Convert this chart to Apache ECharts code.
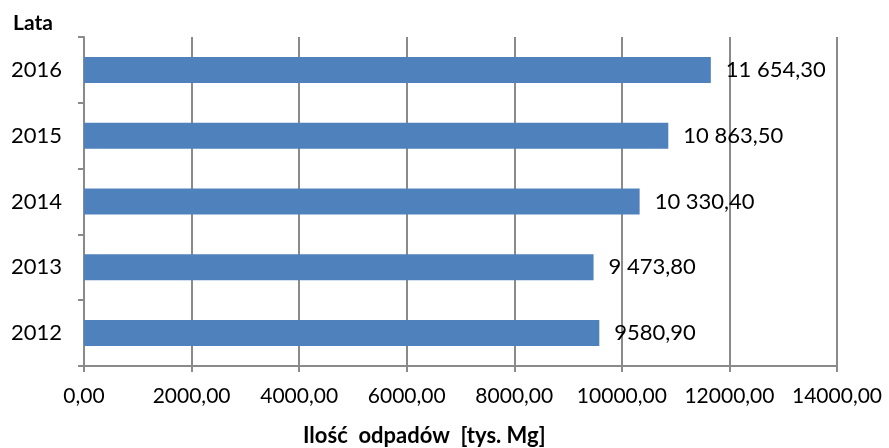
<!DOCTYPE html>
<html>
<head>
<meta charset="utf-8">
<script src="https://cdn.jsdelivr.net/npm/echarts@6/dist/echarts.min.js"></script>
<style>
  html, body { margin: 0; padding: 0; background: #fff; }
  #chart { width: 889px; height: 448px; }
</style>
</head>
<body>
<div id="chart"></div>
<script>
// lata (od dołu do góry)
var years = ['2012', '2013', '2014', '2015', '2016'];
// ilość odpadów [tys. Mg]
var wasteValues = [9580.9, 9473.8, 10330.4, 10863.5, 11654.3];
// etykiety jak na oryginale
var valueLabels = ['9580,90', '9 473,80', '10 330,40', '10 863,50', '11 654,30'];
var xTicks = [0, 2000, 4000, 6000, 8000, 10000, 12000, 14000];

var fontFamily = 'Lato, "Open Sans", sans-serif';
var gridColor = '#8a8a8a';

var chart = echarts.init(document.getElementById('chart'));

var option = {
    animation: false,
    backgroundColor: '#fff',
    grid: {
        left: 84,
        right: 52,
        top: 37,
        bottom: 82
    },
    graphic: [{
        type: 'text',
        left: 13,
        top: 13,
        style: {
            text: 'Lata',
            font: 'bold 21px ' + fontFamily,
            fill: '#000'
        }
    }, {
        type: 'text',
        left: 303,
        top: 425,
        style: {
            text: 'Ilość  odpadów  [tys. Mg]',
            font: 'bold 22px ' + fontFamily,
            fill: '#000'
        }
    }],
    xAxis: {
        type: 'value',
        min: xTicks[0],
        max: xTicks[xTicks.length - 1],
        interval: 2000,
        axisLine: { show: true, lineStyle: { color: gridColor, width: 2 } },
        axisTick: { show: true, length: 6, lineStyle: { color: gridColor, width: 2 } },
        splitLine: { show: true, lineStyle: { color: gridColor, width: 2 } },
        axisLabel: {
            margin: 20,
            fontSize: 21,
            fontFamily: fontFamily,
            color: '#000',
            formatter: function (v) { return v.toFixed(2).replace('.', ','); }
        }
    },
    yAxis: {
        type: 'category',
        data: years,
        axisLine: { show: true, lineStyle: { color: gridColor, width: 2 } },
        axisTick: { show: true, length: 6, lineStyle: { color: gridColor, width: 2 } },
        axisLabel: {
            margin: 22,
            fontSize: 22,
            fontFamily: fontFamily,
            color: '#000'
        }
    },
    series: [{
        type: 'bar',
        data: wasteValues,
        barWidth: 26,
        itemStyle: { color: '#4f81bd' },
        label: {
            show: true,
            position: 'right',
            distance: 15,
            fontSize: 22,
            fontFamily: fontFamily,
            color: '#000',
            formatter: function (p) { return valueLabels[p.dataIndex]; }
        }
    }]
};

chart.setOption(option);
</script>
</body>
</html>
